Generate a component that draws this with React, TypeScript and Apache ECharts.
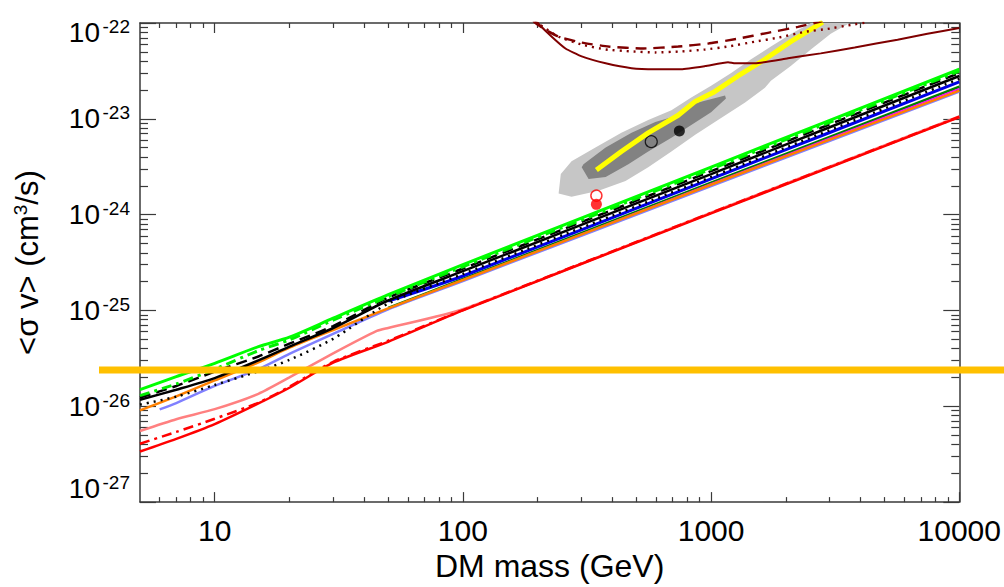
import React, { useEffect, useRef } from "react";
import * as echarts from "echarts";

// ---------- data (mass in GeV, <sigma v> in cm^3/s) ----------
const massGrid = [5, 7, 10, 15, 20, 30, 50, 100, 1000, 10000];
const greenSolid = [1.49e-26, 2.04e-26, 2.81e-26, 4.19e-26, 5.26e-26, 8.3e-26, 1.46e-25, 3.01e-25, 3.14e-24, 3.29e-23];
const greenDashDot = [1.29e-26, 1.71e-26, 2.44e-26, 3.81e-26, 4.94e-26, 7.92e-26, 1.39e-25, 2.86e-25, 2.99e-24, 3.15e-23];
const blackDashed = [1.23e-26, 1.63e-26, 2.3e-26, 3.31e-26, 4.5e-26, 6.87e-26, 1.36e-25, 2.74e-25, 2.84e-24, 3.01e-23];
const blackSolid = [1.17e-26, 1.49e-26, 1.97e-26, 3.01e-26, 4.19e-26, 6.56e-26, 1.27e-25, 2.57e-25, 2.65e-24, 2.8e-23];
const blackDotted = [1.04e-26, 1.26e-26, 1.67e-26, 2.32e-26, 3.05e-26, 5.06e-26, 1.18e-25, 2.4e-25, 2.47e-24, 2.61e-23];
const orangeSolid = [9.06e-27, 1.27e-26, 1.86e-26, 2.88e-26, 4.09e-26, 6.25e-26, 1.05e-25, 2.08e-25, 2.05e-24, 1.97e-23];
const redSolid = [3.37e-27, 4.57e-27, 6.52e-27, 1.07e-26, 1.56e-26, 2.85e-26, 4.71e-26, 1.0e-25, 1.03e-24, 1.04e-23];
const redDashDot = [4.07e-27, 5.4e-27, 7.41e-27, 1.09e-26, 1.6e-26, 2.91e-26, 4.83e-26, 1.01e-25, 1.045e-24, 1.05e-23];

const lavenderMass = [6, 7, 10, 15, 20, 30, 50, 100, 1000, 10000];
const lavenderSolid = [9.27e-27, 1.08e-26, 1.63e-26, 2.44e-26, 3.52e-26, 5.69e-26, 1.03e-25, 2.03e-25, 1.99e-24, 1.92e-23];

const pinkMass = [5, 7, 10, 15, 20, 30, 45, 50, 100, 1000, 10000];
const pinkSolid = [5.52e-27, 7.33e-27, 9.33e-27, 1.35e-26, 2.0e-26, 3.56e-26, 6.11e-26, 6.56e-26, 1.03e-25, 1.05e-24, 1.06e-23];

const highMass = [50, 100, 1000, 10000];
const blueSolid = [1.25e-25, 2.29e-25, 2.36e-24, 2.43e-23];
const darkGreen = [1.06e-25, 2.13e-25, 2.15e-24, 2.16e-23];
const magentaSolid = [1.05e-25, 2.08e-25, 2.1e-24, 2.06e-23];

// thermal relic cross-section (drawn across the whole figure width)
const relicMass = [3.42, 14760];
const relicValue = [2.4e-26, 2.4e-26];

// maroon contours [mass, <sigma v>]
const maroonSolid = [
  [198, 1.05e-22], [202, 9.77e-23], [228, 7.19e-23], [259, 5.42e-23], [301, 4.49e-23],
  [376, 3.8e-23], [478, 3.38e-23], [596, 3.3e-23], [758, 3.3e-23], [946, 3.55e-23],
  [1170, 3.9e-23], [1250, 3.8e-23], [1503, 3.8e-23], [2040, 4.28e-23], [2765, 4.82e-23],
  [3790, 5.55e-23], [5640, 6.7e-23], [7440, 7.71e-23], [10000, 8.89e-23],
];
const maroonDashed = [
  [192, 1.05e-22], [196, 1.0e-22], [212, 8.68e-23], [243, 7.19e-23], [301, 6.24e-23],
  [386, 5.68e-23], [534, 5.42e-23], [737, 5.68e-23], [973, 6.1e-23], [1284, 6.86e-23],
  [1695, 7.9e-23], [2239, 9.1e-23], [2818, 1.05e-22],
];
const maroonDotted = [
  [196, 1.05e-22], [202, 9.77e-23], [243, 7.19e-23], [301, 5.95e-23], [376, 5.29e-23],
  [478, 5.05e-23], [596, 4.93e-23], [758, 5.05e-23], [946, 5.29e-23], [1170, 5.68e-23],
  [1503, 6.39e-23], [1858, 7.02e-23], [2388, 8.09e-23], [2951, 8.68e-23], [3650, 9.54e-23],
  [4272, 1.02e-22],
];

// fit regions
const outerRegion = [
  [243, 1.66e-24], [248, 2.65e-24], [274, 3.61e-24], [342, 5.01e-24], [435, 7.14e-24],
  [558, 9.7e-24], [692, 1.23e-23], [832, 1.67e-23], [1000, 2.21e-23], [1205, 3.01e-23],
  [1449, 4.18e-23], [1742, 5.68e-23], [2138, 7.91e-23], [2523, 1.0e-22], [3614, 1.0e-22],
  [3034, 7.71e-23], [2523, 5.29e-23], [2094, 3.55e-23], [1742, 2.49e-23], [1648, 2.11e-23],
  [1371, 1.48e-23], [1097, 1.02e-23], [863, 6.81e-24], [692, 4.56e-24], [558, 3.13e-24],
  [452, 2.25e-24], [352, 1.78e-24], [274, 1.54e-24],
];
const innerRegion = [
  [301, 3.13e-24], [306, 3.36e-24], [376, 5.01e-24], [478, 7.14e-24], [596, 9.25e-24],
  [737, 1.09e-23], [863, 1.45e-23], [1138, 1.75e-23], [1148, 1.63e-23], [1000, 1.17e-23],
  [832, 8.63e-24], [692, 6.34e-24], [558, 4.56e-24], [464, 3.36e-24], [376, 2.47e-24],
  [321, 2.36e-24],
];
const yellowLine = [
  [345, 2.92e-24], [435, 4.56e-24], [558, 7.14e-24], [737, 1.09e-23], [863, 1.52e-23],
  [1019, 1.88e-23], [1284, 2.8e-23], [1648, 4.18e-23], [2094, 6.39e-23], [2818, 1.02e-22],
];

const bestFitFilled = [[745, 7.48e-24]];
const bestFitOpen = [[574, 5.78e-24]];
const redPointOpen = [[345, 1.58e-24]];
const redPointFilled = [[345, 1.28e-24]];

// ticks
const xMajor = [10, 100, 1000, 10000];
const xMinor = [6, 7, 8, 9, 20, 30, 40, 50, 60, 70, 80, 90, 200, 300, 400, 500, 600, 700, 800, 900,
  2000, 3000, 4000, 5000, 6000, 7000, 8000, 9000];
const yExponents = [-27, -26, -25, -24, -23, -22];
const yMinorMult = [2, 3, 4, 5, 6, 7, 8, 9];

const FONT = "Liberation Sans, Arial, Helvetica, sans-serif";
// ECharts rounds log-axis ticks to 10 decimals, so the y axis works in units of 1e-30 cm^3/s
const Y_EXP = -30;
const yu = (v: number) => v * Math.pow(10, -Y_EXP);

export default function App() {
  const ref = useRef<HTMLDivElement>(null);
  useEffect(() => {
    if (!ref.current) return;
    const chart = echarts.init(ref.current, undefined, { renderer: "svg" });

    const yMajor = yExponents.map((e) => Math.pow(10, e - Y_EXP));
    const yMinor: number[] = [];
    yExponents.slice(0, -1).forEach((e) =>
      yMinorMult.forEach((k) => yMinor.push(k * Math.pow(10, e - Y_EXP)))
    );
    const expOf = (v: number) => Math.round(Math.log10(v)) + Y_EXP;

    const pair = (xs: number[], ys: number[]) => xs.map((x, i) => [x, yu(ys[i])]);
    const pts = (arr: number[][]) => arr.map((p) => [p[0], yu(p[1])]);
    const AX = "#3a3a3a";
    const Y_MIN = Math.pow(10, -27 - Y_EXP);
    const Y_MAX = Math.pow(10, -22 - Y_EXP);

    const xAxisBase = (pos: string, ticks: number[], len: number, labels: boolean, line: boolean) => ({
      type: "log",
      gridIndex: 0,
      min: 5,
      max: 10000,
      position: pos,
      axisLine: { show: line, onZero: false, lineStyle: { color: AX, width: 1.5 } },
      axisTick: { show: true, inside: true, length: len, customValues: ticks, lineStyle: { color: AX, width: 1.2 } },
      axisLabel: labels
        ? {
            show: true,
            customValues: ticks,
            margin: 13,
            fontSize: 30,
            color: "#000",
            fontFamily: FONT,
            formatter: (v: number) => String(Math.round(v)),
          }
        : { show: false },
      splitLine: { show: false },
      minorTick: { show: false },
    });

    const baseTxt = { fontSize: 28, fontFamily: FONT, color: "#000", lineHeight: 30 };
    const supTxt = { fontSize: 19, fontFamily: FONT, color: "#000", lineHeight: 20 };
    const yAxisBase = (pos: string, ticks: number[], len: number, line: boolean, label: any) => ({
      type: "log",
      gridIndex: 0,
      min: Y_MIN,
      max: Y_MAX,
      position: pos,
      axisLine: { show: line, onZero: false, lineStyle: { color: AX, width: 1.5 } },
      axisTick: { show: true, inside: true, length: len, customValues: ticks, lineStyle: { color: AX, width: 1.2 } },
      axisLabel: label || { show: false },
      splitLine: { show: false },
      minorTick: { show: false },
    });

    // "10" part of the y labels
    const baseLabel = {
      show: true,
      customValues: yMajor,
      margin: 40,
      fontSize: 28,
      fontFamily: FONT,
      color: "#000",
      formatter: (v: number) => {
        const e = expOf(v);
        if (e === -22) return "{t|10}";
        if (e === -27) return "{u|10}";
        return "{m|10}";
      },
      rich: {
        m: baseTxt,
        t: { ...baseTxt, padding: [18, 0, 0, 0] },
        u: { ...baseTxt, padding: [0, 0, 28, 0] },
      },
    };
    // exponent (superscript) part of the y labels
    const expLabel = {
      show: true,
      customValues: yMajor,
      margin: 10,
      fontSize: 19,
      fontFamily: FONT,
      color: "#000",
      formatter: (v: number) => {
        const e = expOf(v);
        if (e === -22) return "{t|" + e + "}";
        if (e === -27) return "{u|" + e + "}";
        return "{m|" + e + "}";
      },
      rich: {
        m: { ...supTxt, padding: [0, 0, 12, 0] },
        t: { ...supTxt, padding: [6, 0, 0, 0] },
        u: { ...supTxt, padding: [0, 0, 40, 0] },
      },
    };

    const xAxes: any[] = [
      {
        ...xAxisBase("bottom", xMajor, 10, true, true),
        name: "DM mass (GeV)",
        nameLocation: "middle",
        nameGap: 47,
        nameTextStyle: { fontSize: 32, color: "#000", fontFamily: FONT },
      },
      xAxisBase("bottom", xMinor, 5, false, false),
      xAxisBase("top", xMajor, 10, false, true),
      xAxisBase("top", xMinor, 5, false, false),
      { type: "log", gridIndex: 1, min: relicMass[0], max: relicMass[1], show: false },
    ];
    const yAxes: any[] = [
      {
        ...yAxisBase("left", yMajor, 16, true, baseLabel),
        name: "{n|<σ v> (cm}{s|3}{n|/s)}",
        nameLocation: "middle",
        nameRotate: 90,
        nameGap: 97,
        nameTextStyle: {
          rich: {
            n: { fontSize: 31, fontFamily: FONT, color: "#000", lineHeight: 32 },
            s: { fontSize: 19, fontFamily: FONT, color: "#000", verticalAlign: "top", lineHeight: 30, padding: [0, 0, 12, 0] },
          },
        },
      },
      yAxisBase("left", yMinor, 8, false, expLabel),
      yAxisBase("right", yMajor, 16, true, null),
      yAxisBase("right", yMinor, 8, false, null),
      { type: "log", gridIndex: 1, min: Y_MIN, max: Y_MAX, show: false },
    ];

    const line = (data: any[], color: string, width: number, type: any = "solid", extra: any = {}) => ({
      type: "line",
      data,
      showSymbol: false,
      symbol: "none",
      silent: true,
      lineStyle: { color, width, type },
      ...extra,
    });
    const region = (poly: number[][], fill: string) => {
      const scaled = pts(poly);
      return {
        type: "custom",
        coordinateSystem: "cartesian2d",
        clip: true,
        silent: true,
        data: [[1000, yu(1e-24)]],
        renderItem: (_p: any, api: any) => ({
          type: "polygon",
          shape: { points: scaled.map((p) => api.coord(p)) },
          style: { fill, stroke: "none" },
        }),
      };
    };
    const sm = { smooth: 0.25 };

    const series: any[] = [
      region(outerRegion, "#c6c6c6"),
      region(innerRegion, "#828282"),
      line(pts(yellowLine), "#ffff00", 5),
      line(pts(maroonSolid), "#7f0000", 2, "solid", { smooth: 0.15 }),
      line(pts(maroonDashed), "#7f0000", 2.4, [11, 7], { smooth: 0.15 }),
      line(pts(maroonDotted), "#7f0000", 2.4, [2, 5], { smooth: 0.15 }),
      {
        type: "scatter",
        data: pts(redPointOpen),
        symbol: "circle",
        symbolSize: 11,
        silent: true,
        itemStyle: { color: "rgba(255,255,255,0)", borderColor: "#ff0000", borderWidth: 1.5 },
      },
      {
        type: "scatter",
        data: pts(redPointFilled),
        symbol: "circle",
        symbolSize: 11,
        silent: true,
        itemStyle: { color: "#ff0000" },
      },
      {
        type: "scatter",
        data: pts(bestFitOpen),
        symbol: "circle",
        symbolSize: 12,
        silent: true,
        itemStyle: { color: "rgba(0,0,0,0)", borderColor: "#000", borderWidth: 1.2 },
      },
      {
        type: "scatter",
        data: pts(bestFitFilled),
        symbol: "circle",
        symbolSize: 11,
        silent: true,
        itemStyle: { color: "#000" },
      },
      line(pair(lavenderMass, lavenderSolid), "#8080ff", 2.5, "solid", sm),
      line(pair(highMass, darkGreen), "#008000", 2.5, "solid", sm),
      line(pair(highMass, magentaSolid), "#ff00ff", 1.5, "solid", sm),
      line(pair(massGrid, orangeSolid), "#ff8000", 2.5, "solid", sm),
      line(pair(highMass, blueSolid), "#0000e6", 3, "solid", sm),
      line(pair(massGrid, blackDotted), "#000", 2.5, [2, 5], sm),
      line(pair(massGrid, blackSolid), "#000", 2.5, "solid", sm),
      line(pair(massGrid, blackDashed), "#000", 2.5, [11, 6], sm),
      line(pair(massGrid, greenDashDot), "#00ee00", 3, [10, 5, 3, 5], sm),
      line(pair(massGrid, greenSolid), "#00ff00", 3, "solid", sm),
      line(pair(pinkMass, pinkSolid), "#ff8080", 2.5, "solid", { smooth: 0.2 }),
      line(pair(massGrid, redDashDot), "#ff0000", 2.5, [10, 5, 3, 5], sm),
      line(pair(massGrid, redSolid), "#ff0000", 2.5, "solid", sm),
      line(pair(relicMass, relicValue), "#ffc000", 7, "solid", { xAxisIndex: 4, yAxisIndex: 4, clip: false, z: 5 }),
    ];

    chart.setOption({
      animation: false,
      grid: [
        { left: 140, right: 44, top: 16, bottom: 82, containLabel: false },
        { left: 99, right: 0, top: 16, bottom: 82, containLabel: false },
      ],
      xAxis: xAxes,
      yAxis: yAxes,
      series,
    });
    return () => chart.dispose();
  }, []);

  return (
    <div
      ref={ref}
      style={{ position: "fixed", left: 0, top: 0, width: 1004, height: 587, background: "#fff" }}
    />
  );
}
